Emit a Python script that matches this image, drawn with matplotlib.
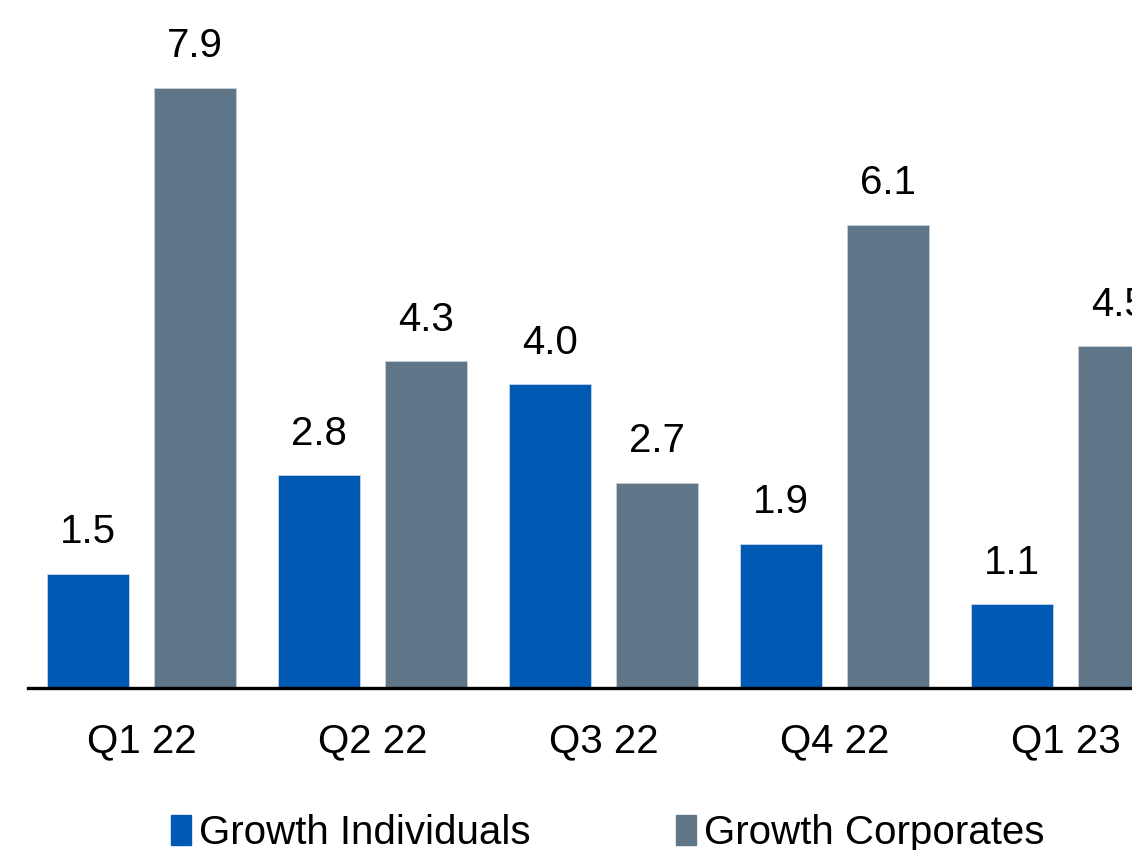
import numpy as np
import matplotlib.pyplot as plt
from matplotlib.patches import Patch

plt.rcParams['font.family'] = ['Liberation Sans', 'DejaVu Sans']

quarters = ["Q1 22", "Q2 22", "Q3 22", "Q4 22", "Q1 23"]
individuals = [1.5, 2.8, 4.0, 1.9, 1.1]
corporates = [7.9, 4.3, 2.7, 6.1, 4.5]

blue = "#005AB4"
grey = "#5F7588"

fig = plt.figure(figsize=(11.32, 8.5), dpi=100)
ax = fig.add_axes([28 / 1132, 1 - 688 / 850, 1 - 28 / 1132, 688 / 850])

x = np.arange(len(quarters))
width = 0.355
offset = 0.2316

b1 = ax.bar(x - offset, individuals, width, color=blue, edgecolor="#c8d4e4", linewidth=0.6)
b2 = ax.bar(x + offset, corporates, width, color=grey, edgecolor="#c8d0d8", linewidth=0.6)

for bars, vals in [(b1, individuals), (b2, corporates)]:
    for bar, v in zip(bars, vals):
        ax.annotate(f"{v:.1f}", (bar.get_x() + bar.get_width() / 2, v),
                    xytext=(0, 30), textcoords="offset points",
                    ha="center", va="center", fontsize=29, clip_on=False)

ax.set_xlim(-0.491, 4.288)
ax.set_ylim(0, 9.06)
ax.set_xticks(x)
ax.set_xticklabels(quarters, fontsize=29)
ax.tick_params(axis="x", length=0, pad=25)
ax.set_yticks([])
for side in ["top", "right", "left"]:
    ax.spines[side].set_visible(False)
ax.spines["bottom"].set_linewidth(2.4)
ax.patch.set_alpha(0)

handles = [Patch(color=blue), Patch(color=grey)]
fig.legend(handles, ["Growth Individuals", "Growth Corporates"],
           loc="lower center", bbox_to_anchor=(0.537, -0.045), ncol=2,
           frameon=False, fontsize=29, handlelength=0.5, handleheight=0.75,
           handletextpad=0.2, columnspacing=3.6)

fig.savefig("out.png", dpi=100)
